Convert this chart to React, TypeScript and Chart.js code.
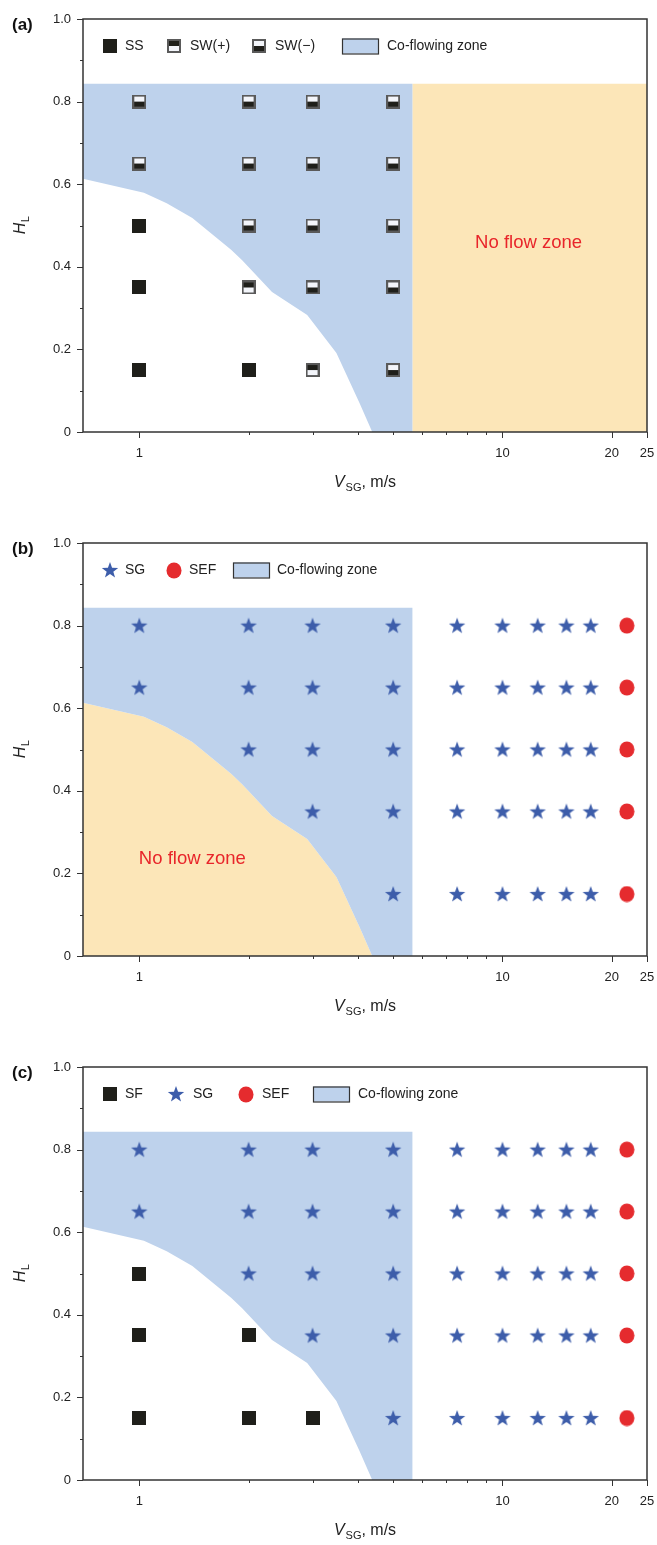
import { useEffect, useRef } from 'react';
import { Chart, registerables } from 'chart.js';

Chart.register(...registerables);

const FONT = '"Liberation Sans", Arial, Helvetica, sans-serif';
const INK = '#222222';
const FRAME = '#333333';
const COFLOW_FILL = '#BED2EC';
const NOFLOW_FILL = '#FCE6B8';
const STAR_BLUE = '#3D5DAA';
const SEF_RED = '#E52B2E';
const LABEL_RED = '#E8252A';

// Axis ranges and ticks
const X_MIN = 0.7;
const X_MAX = 25;
const xMajorTicks = [1, 10, 20, 25];
const xMinorTicks = [2, 3, 4, 5, 6, 7, 8, 9];
const yMajorTicks = [0, 0.2, 0.4, 0.6, 0.8, 1.0];
const yMinorTicks = [0.1, 0.3, 0.5, 0.7, 0.9];

// Lower edge of the co-flowing zone (V_SG in m/s, H_L)
const boundaryVsg = [0.7, 1.03, 1.19, 1.4, 1.79, 1.92, 2.32, 2.9, 3.49, 4.04, 4.38];
const boundaryHl = [0.613, 0.579, 0.554, 0.518, 0.441, 0.416, 0.339, 0.283, 0.191, 0.07, 0];
const coflowTopHl = 0.843;
const coflowEdgeVsg = 5.65;

// (a) stratified-smooth and stratified-wavy points
const aSsVsg = [1, 1, 1, 2];
const aSsHl = [0.5, 0.35, 0.15, 0.15];
const aSwPlusVsg = [2, 3];
const aSwPlusHl = [0.35, 0.15];
const aSwMinusVsg = [1, 1, 2, 2, 2, 3, 3, 3, 3, 5, 5, 5, 5, 5];
const aSwMinusHl = [0.8, 0.65, 0.8, 0.65, 0.5, 0.8, 0.65, 0.5, 0.35, 0.8, 0.65, 0.5, 0.35, 0.15];

// (b) slug-gas and entrained-flow points
const bSgVsg = [
  1, 1,
  2, 2, 2,
  3, 3, 3, 3,
  5, 5, 5, 5, 5,
  7.5, 7.5, 7.5, 7.5, 7.5,
  10, 10, 10, 10, 10,
  12.5, 12.5, 12.5, 12.5, 12.5,
  15, 15, 15, 15, 15,
  17.5, 17.5, 17.5, 17.5, 17.5,
];
const bSgHl = [
  0.8, 0.65,
  0.8, 0.65, 0.5,
  0.8, 0.65, 0.5, 0.35,
  0.8, 0.65, 0.5, 0.35, 0.15,
  0.8, 0.65, 0.5, 0.35, 0.15,
  0.8, 0.65, 0.5, 0.35, 0.15,
  0.8, 0.65, 0.5, 0.35, 0.15,
  0.8, 0.65, 0.5, 0.35, 0.15,
  0.8, 0.65, 0.5, 0.35, 0.15,
];
const bSefVsg = [22, 22, 22, 22, 22];
const bSefHl = [0.8, 0.65, 0.5, 0.35, 0.15];

// (c) stratified-flow, slug-gas and entrained-flow points
const cSfVsg = [1, 1, 1, 2, 2, 3];
const cSfHl = [0.5, 0.35, 0.15, 0.35, 0.15, 0.15];
const cSgVsg = [
  1, 1,
  2, 2, 2,
  3, 3, 3, 3,
  5, 5, 5, 5, 5,
  7.5, 7.5, 7.5, 7.5, 7.5,
  10, 10, 10, 10, 10,
  12.5, 12.5, 12.5, 12.5, 12.5,
  15, 15, 15, 15, 15,
  17.5, 17.5, 17.5, 17.5, 17.5,
];
const cSgHl = [
  0.8, 0.65,
  0.8, 0.65, 0.5,
  0.8, 0.65, 0.5, 0.35,
  0.8, 0.65, 0.5, 0.35, 0.15,
  0.8, 0.65, 0.5, 0.35, 0.15,
  0.8, 0.65, 0.5, 0.35, 0.15,
  0.8, 0.65, 0.5, 0.35, 0.15,
  0.8, 0.65, 0.5, 0.35, 0.15,
  0.8, 0.65, 0.5, 0.35, 0.15,
];
const cSefVsg = [22, 22, 22, 22, 22];
const cSefHl = [0.8, 0.65, 0.5, 0.35, 0.15];

type MarkerKind = 'square' | 'swPlus' | 'swMinus' | 'star' | 'dot';

function makeCanvas(w: number, h: number) {
  const c = document.createElement('canvas');
  c.width = w;
  c.height = h;
  return c;
}

function buildMarkers(): Record<MarkerKind, HTMLCanvasElement> {
  const square = makeCanvas(14, 14);
  {
    const g = square.getContext('2d')!;
    g.fillStyle = '#1F1F1A';
    g.fillRect(0, 0, 14, 14);
  }
  const sw = (topDark: boolean) => {
    const c = makeCanvas(14, 14);
    const g = c.getContext('2d')!;
    g.fillStyle = '#5A5A5A';
    g.fillRect(0, 0, 14, 14);
    g.fillStyle = topDark ? '#1F1F1A' : '#F3F5FA';
    g.fillRect(2, 2, 10, 5);
    g.fillStyle = topDark ? '#F3F5FA' : '#1F1F1A';
    g.fillRect(2, 7, 10, 5);
    return c;
  };
  const star = makeCanvas(18, 18);
  {
    const g = star.getContext('2d')!;
    const cx = 9, cy = 9.6, R = 8.6, r = 3.5;
    g.beginPath();
    for (let i = 0; i < 10; i++) {
      const ang = -Math.PI / 2 + (i * Math.PI) / 5;
      const rad = i % 2 === 0 ? R : r;
      const px = cx + rad * Math.cos(ang);
      const py = cy + rad * Math.sin(ang);
      if (i === 0) g.moveTo(px, py);
      else g.lineTo(px, py);
    }
    g.closePath();
    g.fillStyle = STAR_BLUE;
    g.fill();
  }
  const dot = makeCanvas(16, 17);
  {
    const g = dot.getContext('2d')!;
    g.beginPath();
    g.ellipse(8, 8.5, 7.5, 8, 0, 0, Math.PI * 2);
    g.fillStyle = SEF_RED;
    g.fill();
  }
  return { square, swPlus: sw(true), swMinus: sw(false), star, dot };
}

interface SeriesSpec {
  label: string;
  kind: MarkerKind;
  vsg: number[];
  hl: number[];
}

interface LegendSpec {
  kind: MarkerKind | 'box';
  label: string;
  markerX: number;
  textX: number;
}

interface PanelSpec {
  tag: string;
  height: number;
  series: SeriesSpec[];
  noFlow: 'right' | 'below';
  noFlowVsg: number;
  noFlowHl: number;
  legend: LegendSpec[];
}

const PLOT_TOP = 19;
const PLOT_H = 413;

const panels: PanelSpec[] = [
  {
    tag: '(a)',
    height: 524,
    series: [
      { label: 'SS', kind: 'square', vsg: aSsVsg, hl: aSsHl },
      { label: 'SW(+)', kind: 'swPlus', vsg: aSwPlusVsg, hl: aSwPlusHl },
      { label: 'SW(\u2212)', kind: 'swMinus', vsg: aSwMinusVsg, hl: aSwMinusHl },
    ],
    noFlow: 'right',
    noFlowVsg: 11.8,
    noFlowHl: 0.458,
    legend: [
      { kind: 'square', label: 'SS', markerX: 110, textX: 125 },
      { kind: 'swPlus', label: 'SW(+)', markerX: 174, textX: 190 },
      { kind: 'swMinus', label: 'SW(\u2212)', markerX: 259, textX: 275 },
      { kind: 'box', label: 'Co-flowing zone', markerX: 342, textX: 387 },
    ],
  },
  {
    tag: '(b)',
    height: 524,
    series: [
      { label: 'SG', kind: 'star', vsg: bSgVsg, hl: bSgHl },
      { label: 'SEF', kind: 'dot', vsg: bSefVsg, hl: bSefHl },
    ],
    noFlow: 'below',
    noFlowVsg: 1.4,
    noFlowHl: 0.235,
    legend: [
      { kind: 'star', label: 'SG', markerX: 110, textX: 125 },
      { kind: 'dot', label: 'SEF', markerX: 174, textX: 189 },
      { kind: 'box', label: 'Co-flowing zone', markerX: 233, textX: 277 },
    ],
  },
  {
    tag: '(c)',
    height: 497,
    series: [
      { label: 'SF', kind: 'square', vsg: cSfVsg, hl: cSfHl },
      { label: 'SG', kind: 'star', vsg: cSgVsg, hl: cSgHl },
      { label: 'SEF', kind: 'dot', vsg: cSefVsg, hl: cSefHl },
    ],
    noFlow: 'right',
    noFlowVsg: 0,
    noFlowHl: 0,
    legend: [
      { kind: 'square', label: 'SF', markerX: 110, textX: 125 },
      { kind: 'star', label: 'SG', markerX: 176, textX: 193 },
      { kind: 'dot', label: 'SEF', markerX: 246, textX: 262 },
      { kind: 'box', label: 'Co-flowing zone', markerX: 313, textX: 358 },
    ],
  },
];

function decorPlugin(spec: PanelSpec, markers: Record<MarkerKind, HTMLCanvasElement>, showNoFlowFill: boolean) {
  return {
    id: 'panelDecor',
    beforeDatasetsDraw(chart: any) {
      const { ctx, chartArea: a, scales } = chart;
      const xs = scales.x;
      const ys = scales.y;
      const px = (v: number) => xs.getPixelForValue(v);
      const py = (v: number) => ys.getPixelForValue(v);
      ctx.save();
      ctx.beginPath();
      ctx.rect(a.left, a.top, a.right - a.left, a.bottom - a.top);
      ctx.clip();

      if (showNoFlowFill) {
        ctx.fillStyle = NOFLOW_FILL;
        ctx.beginPath();
        if (spec.noFlow === 'right') {
          ctx.moveTo(px(coflowEdgeVsg), py(coflowTopHl));
          ctx.lineTo(px(X_MAX), py(coflowTopHl));
          ctx.lineTo(px(X_MAX), py(0));
          ctx.lineTo(px(coflowEdgeVsg), py(0));
        } else {
          ctx.moveTo(px(boundaryVsg[0]), py(0));
          for (let i = 0; i < boundaryVsg.length; i++) {
            ctx.lineTo(px(boundaryVsg[i]), py(boundaryHl[i]));
          }
        }
        ctx.closePath();
        ctx.fill();
      }

      ctx.fillStyle = COFLOW_FILL;
      ctx.beginPath();
      ctx.moveTo(px(boundaryVsg[0]), py(coflowTopHl));
      ctx.lineTo(px(coflowEdgeVsg), py(coflowTopHl));
      ctx.lineTo(px(coflowEdgeVsg), py(0));
      for (let i = boundaryVsg.length - 1; i >= 0; i--) {
        ctx.lineTo(px(boundaryVsg[i]), py(boundaryHl[i]));
      }
      ctx.closePath();
      ctx.fill();
      ctx.restore();
    },
    afterDatasetsDraw(chart: any) {
      const { ctx, chartArea: a, scales } = chart;
      const xs = scales.x;
      const ys = scales.y;
      ctx.save();

      // frame
      ctx.strokeStyle = FRAME;
      ctx.lineWidth = 1.5;
      ctx.strokeRect(a.left, a.top, a.right - a.left, a.bottom - a.top);

      // tick marks
      ctx.lineWidth = 1;
      ctx.beginPath();
      for (const v of yMajorTicks) {
        const y = Math.round(ys.getPixelForValue(v)) + 0.5;
        ctx.moveTo(a.left - 6, y);
        ctx.lineTo(a.left, y);
      }
      for (const v of yMinorTicks) {
        const y = Math.round(ys.getPixelForValue(v)) + 0.5;
        ctx.moveTo(a.left - 3, y);
        ctx.lineTo(a.left, y);
      }
      for (const v of xMajorTicks) {
        const x = Math.round(xs.getPixelForValue(v)) + 0.5;
        ctx.moveTo(x, a.bottom);
        ctx.lineTo(x, a.bottom + 6);
      }
      for (const v of xMinorTicks) {
        const x = Math.round(xs.getPixelForValue(v)) + 0.5;
        ctx.moveTo(x, a.bottom);
        ctx.lineTo(x, a.bottom + 3);
      }
      ctx.stroke();

      // no-flow label
      if (showNoFlowFill) {
        ctx.fillStyle = LABEL_RED;
        ctx.font = `18.5px ${FONT}`;
        ctx.textAlign = 'center';
        ctx.textBaseline = 'middle';
        ctx.fillText('No flow zone', xs.getPixelForValue(spec.noFlowVsg), ys.getPixelForValue(spec.noFlowHl));
      }

      // legend
      const ly = a.top + 27;
      ctx.textAlign = 'left';
      ctx.textBaseline = 'middle';
      ctx.font = `14px ${FONT}`;
      for (const item of spec.legend) {
        if (item.kind === 'box') {
          ctx.fillStyle = COFLOW_FILL;
          ctx.fillRect(item.markerX, ly - 7.5, 36, 15);
          ctx.strokeStyle = FRAME;
          ctx.lineWidth = 1.2;
          ctx.strokeRect(item.markerX + 0.5, ly - 7, 36, 15);
        } else {
          const img = markers[item.kind];
          ctx.drawImage(img, Math.round(item.markerX - img.width / 2), Math.round(ly - img.height / 2));
        }
        ctx.fillStyle = INK;
        ctx.fillText(item.label, item.textX, ly + 0.5);
      }

      // panel tag
      ctx.font = `bold 17px ${FONT}`;
      ctx.fillStyle = '#111111';
      ctx.textBaseline = 'middle';
      ctx.fillText(spec.tag, 12, a.top + 6);

      // y-axis title: H_L
      ctx.save();
      ctx.translate(25, (a.top + a.bottom) / 2);
      ctx.rotate(-Math.PI / 2);
      ctx.textBaseline = 'alphabetic';
      ctx.font = `italic 16px ${FONT}`;
      const wH = ctx.measureText('H').width;
      ctx.font = `11px ${FONT}`;
      const wL = ctx.measureText('L').width;
      const y0 = -(wH + wL) / 2;
      ctx.fillStyle = INK;
      ctx.font = `italic 16px ${FONT}`;
      ctx.fillText('H', y0, 0);
      ctx.font = `11px ${FONT}`;
      ctx.fillText('L', y0 + wH + 0.5, 4);
      ctx.restore();

      // x-axis title: V_SG, m/s
      ctx.textBaseline = 'alphabetic';
      ctx.font = `italic 16px ${FONT}`;
      const wV = ctx.measureText('V').width;
      ctx.font = `11px ${FONT}`;
      const wSG = ctx.measureText('SG').width;
      ctx.font = `16px ${FONT}`;
      const wRest = ctx.measureText(', m/s').width;
      const total = wV + wSG + wRest + 1;
      let tx = (a.left + a.right) / 2 - total / 2;
      const by = a.bottom + 55;
      ctx.fillStyle = INK;
      ctx.font = `italic 16px ${FONT}`;
      ctx.fillText('V', tx, by);
      tx += wV + 1;
      ctx.font = `11px ${FONT}`;
      ctx.fillText('SG', tx, by + 4);
      tx += wSG;
      ctx.font = `16px ${FONT}`;
      ctx.fillText(', m/s', tx, by);

      ctx.restore();
    },
  };
}

function Panel({ spec, showNoFlowFill }: { spec: PanelSpec; showNoFlowFill: boolean }) {
  const ref = useRef<HTMLCanvasElement | null>(null);

  useEffect(() => {
    const canvas = ref.current;
    if (!canvas) return;
    const markers = buildMarkers();
    const datasets = spec.series.map((s) => ({
      label: s.label,
      data: s.vsg.map((v, i) => ({ x: v, y: s.hl[i] })),
      pointStyle: markers[s.kind] as any,
      pointRadius: 7,
      showLine: false,
    }));
    const tickFont = { family: FONT, size: 13 };
    const chart = new Chart(canvas, {
      type: 'scatter',
      data: { datasets },
      plugins: [decorPlugin(spec, markers, showNoFlowFill)],
      options: {
        responsive: false,
        maintainAspectRatio: false,
        animation: false,
        events: [],
        layout: { padding: { top: PLOT_TOP, right: 10, left: 0, bottom: 0 } },
        plugins: {
          legend: { display: false },
          tooltip: { enabled: false },
          title: { display: false },
        },
        scales: {
          x: {
            type: 'logarithmic',
            min: X_MIN,
            max: X_MAX,
            bounds: 'data',
            grid: { display: false, drawTicks: false },
            border: { display: false },
            ticks: {
              autoSkip: false,
              maxRotation: 0,
              padding: 14,
              color: INK,
              font: tickFont,
              callback: (v: any) => String(v),
            },
            afterBuildTicks: (scale: any) => {
              scale.ticks = xMajorTicks.map((v) => ({ value: v }));
            },
            afterFit: (scale: any) => {
              scale.height = spec.height - PLOT_TOP - PLOT_H;
              scale.paddingLeft = 0;
              scale.paddingRight = 0;
            },
          },
          y: {
            type: 'linear',
            min: 0,
            max: 1,
            grid: { display: false, drawTicks: false },
            border: { display: false },
            ticks: {
              padding: 12,
              color: INK,
              font: tickFont,
              callback: (v: any) => (v === 0 ? '0' : Number(v).toFixed(1)),
            },
            afterBuildTicks: (scale: any) => {
              scale.ticks = yMajorTicks.map((v) => ({ value: v }));
            },
            afterFit: (scale: any) => {
              scale.width = 83;
              scale.paddingTop = 0;
              scale.paddingBottom = 0;
            },
          },
        },
      } as any,
    });
    return () => chart.destroy();
  }, [spec, showNoFlowFill]);

  return <canvas ref={ref} width={657} height={spec.height} style={{ display: 'block' }} />;
}

export default function App() {
  return (
    <div style={{ position: 'absolute', left: 0, top: 0, width: 657, background: '#ffffff' }}>
      <Panel spec={panels[0]} showNoFlowFill={true} />
      <Panel spec={panels[1]} showNoFlowFill={true} />
      <Panel spec={panels[2]} showNoFlowFill={false} />
    </div>
  );
}
